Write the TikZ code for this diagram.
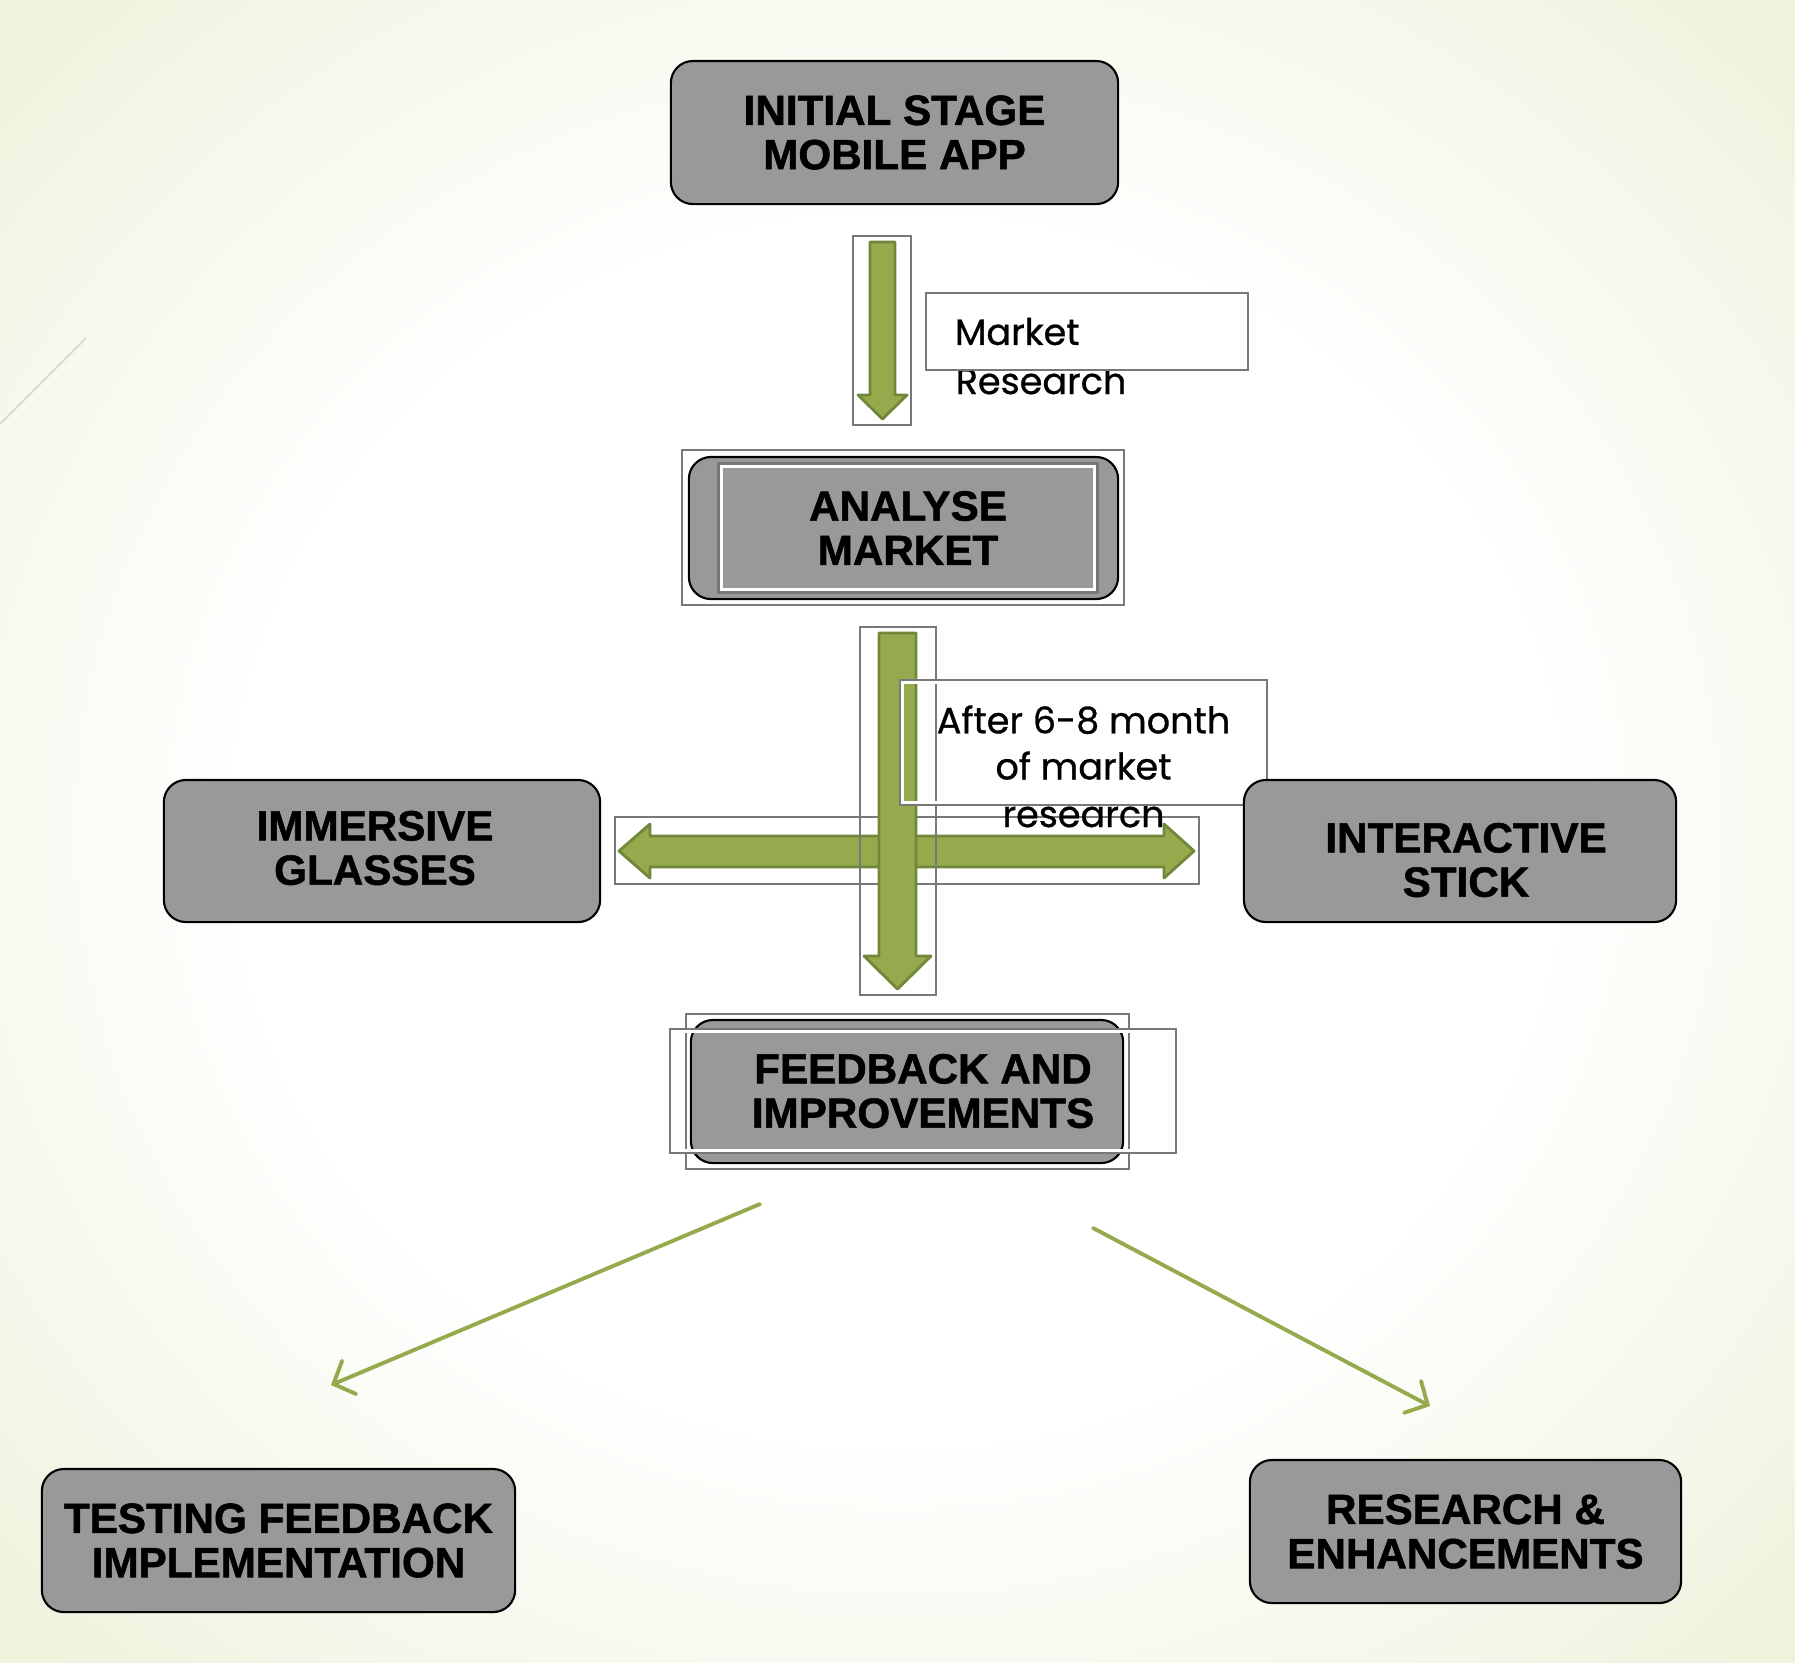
\documentclass[tikz,border=0pt]{standalone}
\usepackage{fontspec}
\setmainfont{Liberation Sans}[BoldFeatures={FakeBold=1.3}]
\newfontfamily\notefont{Poppins}[FakeBold=0.8]
\usetikzlibrary{arrows.meta}

\definecolor{arrowgreen}{RGB}{148,170,76}
\definecolor{arrowedge}{RGB}{113,135,57}
\definecolor{boxgray}{RGB}{153,153,153}
\definecolor{framegray}{RGB}{120,120,120}
\definecolor{bgedge}{RGB}{236,242,218}
\pgfdeclareradialshading{slidebg}{\pgfpoint{0bp}{0bp}}{color(0bp)=(white); color(18bp)=(white); color(36bp)=(bgedge); color(50bp)=(bgedge)}

\begin{document}
\begin{tikzpicture}[x=0.01cm,y=-0.01cm,
  stagefont/.style={font=\fontsize{12}{12.6}\selectfont\bfseries},
  stagebox/.style={draw=black,line width=0.6pt,fill=boxgray,rounded corners=0.22cm,
    minimum height=1.43cm,align=center,stagefont},
  gframe/.style={draw=framegray,line width=0.7pt},
  blockarrow/.style={fill=arrowgreen,draw=arrowedge,line width=0.8pt,line join=round},
  note/.style={font=\notefont\fontsize{10.4}{13.1}\selectfont},
  flow/.style={draw=arrowgreen,line width=1.1pt,line cap=round,
    -{Straight Barb[length=1.7mm,width=3.6mm,line cap=round]}}
]
\useasboundingbox (0,0) rectangle (1795,1662);
% slide background
\shade[shading=slidebg] (0,0) rectangle (1795,1662);
\draw[black!15,line width=0.5pt] (0,424) -- (86,338);

% side split arrow
\draw[gframe] (615,817) rectangle (1199,884);
\draw[blockarrow] (619,851) -- (650,824) -- (650,836) -- (1164,836) -- (1164,824)
  -- (1194,851) -- (1164,878) -- (1164,867) -- (650,867) -- (650,878) -- cycle;

% text running out of the note boxes
\node[note,anchor=base west,inner sep=0pt] (mrtail) at (955,394) {Research};
\node[note,anchor=base,inner sep=0pt] (aftertail) at (1083.5,827) {research};

% market research note
\node[gframe,fill=white,note,minimum height=0.77cm,text width=2.64cm,inner xsep=0.29cm,
  align=left] (mrlabel) at (1087,331.5) {Market};
\node[fill=white,minimum width=3.67cm,minimum height=1.25cm] (afterpad) at (1083.5,742.5) {};

% down arrows
\draw[gframe] (853,236) rectangle (911,425);
\draw[blockarrow] (870,242) -- (895,242) -- (895,395) -- (907,395) -- (882.5,419)
  -- (858,395) -- (870,395) -- cycle;
\draw[gframe] (860,627) rectangle (936,995);
\draw[blockarrow] (879,633) -- (916,633) -- (916,956) -- (931,956) -- (897.5,989)
  -- (864,956) -- (879,956) -- cycle;

% after 6-8 month note
\node[gframe,note,align=center,minimum width=3.67cm,minimum height=1.25cm] (afterlabel)
  at (1083.5,742.5) {After 6-8 month\\of market};
\draw[white,line width=0.8pt] ([shift={(4,-4)}]afterlabel.south west) rectangle ([shift={(-4,4)}]afterlabel.north east);

% stages
\node[stagebox,minimum width=4.47cm] (initapp) at (894.5,132.5) {INITIAL STAGE\\MOBILE APP};

\node[stagebox,minimum width=4.29cm,minimum height=1.42cm] (analyse) at (903.5,528) {};
\draw[gframe] ([shift={(-6,5)}]analyse.south west) rectangle ([shift={(5,-6)}]analyse.north east);
\node[draw=framegray,line width=1pt,stagefont,align=center,minimum width=3.78cm,
  minimum height=1.28cm] (analysetxt) at (908,528) {ANALYSE\\MARKET};
\draw[white,line width=0.9pt] ([shift={(4,-4)}]analysetxt.south west) rectangle ([shift={(-4,4)}]analysetxt.north east);

\node[stagebox,minimum width=4.36cm,minimum height=1.42cm] (glasses) at (382,851) {};
\node[stagefont,align=center] (glassestxt) at (375,848) {IMMERSIVE\\GLASSES};
\node[stagebox,minimum width=4.32cm,minimum height=1.42cm] (stick) at (1460,851) {};
\node[stagefont,align=center] (sticktxt) at (1466,860) {INTERACTIVE\\STICK};

\node[stagebox,minimum width=4.32cm] (feedback) at (907,1091.5) {};
\draw[gframe] ([shift={(-4,5)}]feedback.south west) rectangle ([shift={(5,-5)}]feedback.north east);
\node[gframe,stagefont,align=center,minimum width=5.06cm,minimum height=1.24cm]
  (feedbacktxt) at (923,1091) {FEEDBACK AND\\IMPROVEMENTS};
\draw[white,line width=0.8pt] ([shift={(4,-4)}]feedbacktxt.south west) rectangle ([shift={(-4,4)}]feedbacktxt.north east);

\node[stagebox,minimum width=4.73cm] (testing) at (278.5,1540.5) {TESTING FEEDBACK\\IMPLEMENTATION};
\node[stagebox,minimum width=4.31cm] (enhance) at (1465.5,1531.5) {RESEARCH \&\\ENHANCEMENTS};

% outcomes
\coordinate (fbleft) at (760,1204);
\coordinate (tfend) at (331,1385);
\coordinate (fbright) at (1093,1228);
\coordinate (reend) at (1430,1406);
\draw[flow] (fbleft) -- (tfend);
\draw[flow] (fbright) -- (reend);
\end{tikzpicture}
\end{document}
